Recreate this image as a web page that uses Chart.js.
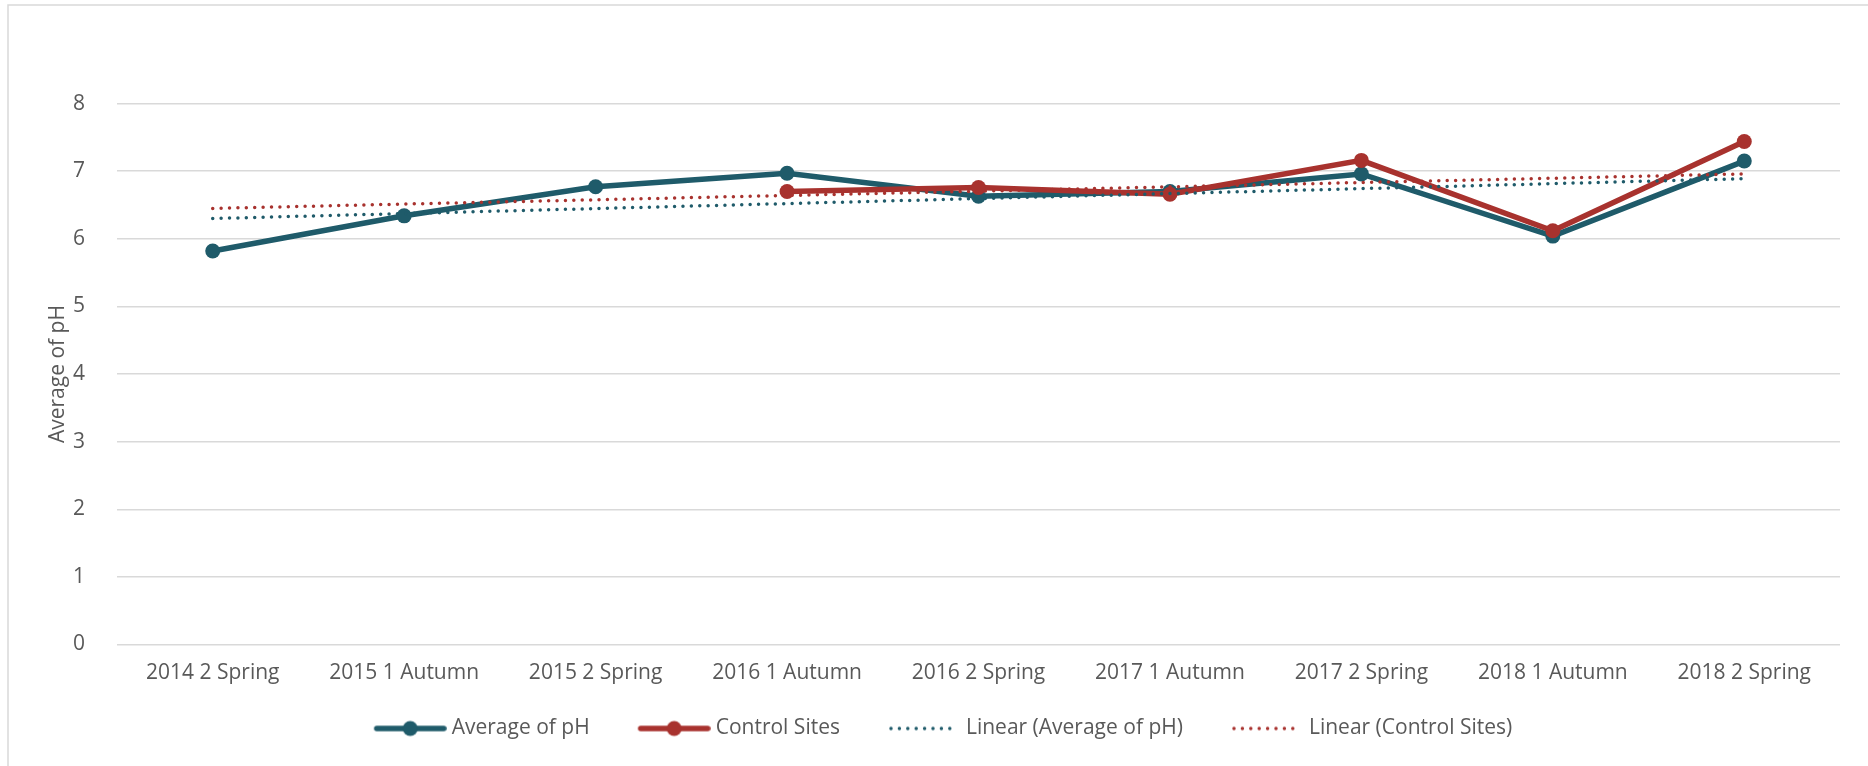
<!DOCTYPE html>
<html lang="en">
<head>
<meta charset="UTF-8">
<title>Average of pH</title>
<script src="https://cdn.jsdelivr.net/npm/chart.js@4/dist/chart.umd.min.js"></script>
<style>
  html, body { margin: 0; padding: 0; background: #fff; }
  #wrap { position: relative; width: 1868px; height: 766px; }
</style>
</head>
<body>
<div id="wrap"><canvas id="chart"></canvas></div>
<script>
// values
const CATEGORIES = ['2014 2 Spring', '2015 1 Autumn', '2015 2 Spring', '2016 1 Autumn', '2016 2 Spring',
                    '2017 1 Autumn', '2017 2 Spring', '2018 1 Autumn', '2018 2 Spring'];
const PH_AVERAGE    = [5.82, 6.34, 6.77, 6.97, 6.63, 6.70, 6.96, 6.04, 7.15];
const CONTROL_SITES = [null, null, null, 6.70, 6.76, 6.66, 7.16, 6.12, 7.44];
// trendline end points (first and last category)
const PH_TREND      = [6.30, null, null, null, null, null, null, null, 6.89];
const CONTROL_TREND = [6.45, null, null, null, null, null, null, null, 6.96];
const Y_MIN = 0, Y_MAX = 8, Y_STEP = 1;

const TEAL = '#1f5b6a';
const RED = '#a8322e';
const GRID = '#d9d9d9';
const TEXT = '#595959';
const FONT = "'Open Sans', sans-serif";

// legend pictures: 26px of blank on the left widens the gap between items
const LEAD = 26;
function legendSample(color, dotted) {
  const c = document.createElement('canvas');
  c.width = 73 + LEAD; c.height = 18;
  const g = c.getContext('2d');
  g.strokeStyle = color; g.fillStyle = color; g.lineCap = 'round';
  g.beginPath(); g.moveTo(LEAD + 3, 9); g.lineTo(LEAD + 70, 9);
  if (dotted) {
    g.lineWidth = 3.5; g.setLineDash([0, 8.4]);
    g.stroke();
  } else {
    g.lineWidth = 5.5;
    g.stroke();
    g.beginPath(); g.arc(LEAD + 36.5, 9, 7.5, 0, Math.PI * 2); g.fill();
  }
  return c;
}

const frame = {
  id: 'frame',
  beforeDraw(chart) {
    const ctx = chart.ctx;
    ctx.save();
    ctx.fillStyle = '#fff';
    ctx.fillRect(0, 0, chart.width, chart.height);
    ctx.strokeStyle = GRID;
    ctx.lineWidth = 1.5;
    ctx.beginPath();
    ctx.moveTo(8, chart.height); ctx.lineTo(8, 5); ctx.lineTo(chart.width, 5);
    ctx.stroke();
    ctx.restore();
  }
};

const datasets = [
  { label: 'Average of pH', data: PH_AVERAGE, borderColor: TEAL, backgroundColor: TEAL,
    borderWidth: 5.5, pointRadius: 7.5, pointHoverRadius: 7.5, pointBackgroundColor: TEAL, pointBorderWidth: 0, order: 3 },
  { label: 'Control Sites', data: CONTROL_SITES, borderColor: RED, backgroundColor: RED,
    borderWidth: 5.5, pointRadius: 7.5, pointHoverRadius: 7.5, pointBackgroundColor: RED, pointBorderWidth: 0, order: 2 },
  { label: 'Linear (Average of pH)', data: PH_TREND, borderColor: TEAL, borderWidth: 3.5,
    borderDash: [0, 8.4], borderCapStyle: 'round', pointRadius: 0, spanGaps: true, order: 1 },
  { label: 'Linear (Control Sites)', data: CONTROL_TREND, borderColor: RED, borderWidth: 3.5,
    borderDash: [0, 8.4], borderCapStyle: 'round', pointRadius: 0, spanGaps: true, order: 0 },
];
const samples = [legendSample(TEAL, false), legendSample(RED, false), legendSample(TEAL, true), legendSample(RED, true)];

new Chart(document.getElementById('chart'), {
  type: 'line',
  data: { labels: CATEGORIES, datasets },
  plugins: [frame],
  options: {
    responsive: true,
    maintainAspectRatio: false,
    animation: false,
    layout: { padding: { top: 103.6, right: 28, bottom: 17, left: 25.5 } },
    plugins: {
      tooltip: { enabled: false },
      legend: {
        position: 'bottom',
        labels: {
          usePointStyle: true,
          pointStyleWidth: 62 + LEAD,
          padding: 27.5,
          color: TEXT,
          font: { family: FONT, size: 21 },
          generateLabels: (chart) => chart.data.datasets.map((ds, i) => ({
            text: ds.label, pointStyle: samples[i], fillStyle: ds.borderColor,
            strokeStyle: ds.borderColor, lineWidth: 0, hidden: false, datasetIndex: i, fontColor: TEXT
          }))
        }
      }
    },
    scales: {
      x: {
        offset: true,
        grid: { display: false, drawTicks: false },
        border: { display: false },
        ticks: { color: TEXT, font: { family: FONT, size: 21 }, padding: 16, maxRotation: 0, autoSkip: false },
        afterFit: (s) => { s.height = 46; }
      },
      y: {
        min: Y_MIN, max: Y_MAX,
        grid: { color: GRID, lineWidth: 1.5, drawTicks: false },
        border: { display: false },
        ticks: { stepSize: Y_STEP, color: TEXT, font: { family: FONT, size: 21 }, padding: 32 },
        title: { display: true, text: 'Average of pH', color: TEXT, font: { family: FONT, size: 21 }, padding: { top: 20, bottom: 0 } },
        afterFit: (s) => { s.width = 117 - 25.5; }
      }
    }
  }
});
</script>
</body>
</html>
